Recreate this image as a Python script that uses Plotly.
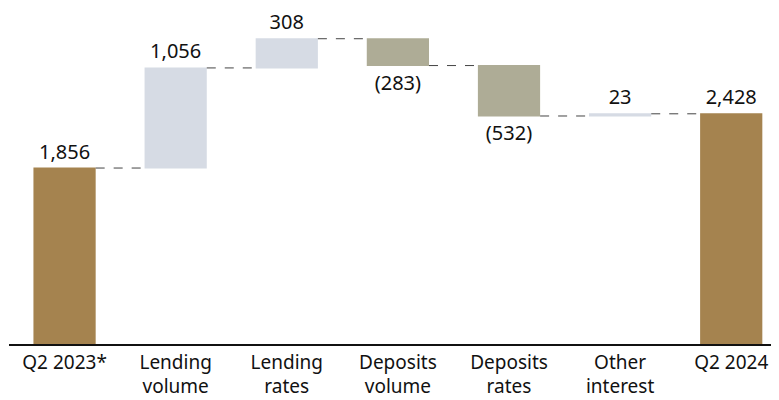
import plotly.graph_objects as go

categories = ['Q2 2023*', 'Lending<br>volume', 'Lending<br>rates', 'Deposits<br>volume',
              'Deposits<br>rates', 'Other<br>interest', 'Q2 2024']
values = [1856, 1056, 308, -283, -532, 23, 2428]
measures = ['absolute', 'relative', 'relative', 'relative', 'relative', 'relative', 'total']


def fmt(v):
    return f'({abs(v):,})' if v < 0 else f'{v:,}'


labels = [fmt(v) for v in values]

fig = go.Figure(go.Waterfall(
    x=categories, y=values, measure=measures,
    text=labels, textposition='outside', constraintext='none',
    textfont={'size': 20, 'color': '#111111'},
    increasing={'marker': {'color': '#d6dbe4'}},
    decreasing={'marker': {'color': '#aeac96'}},
    totals={'marker': {'color': '#a5834f'}},
    connector={'mode': 'between', 'line': {'color': '#444444', 'width': 1, 'dash': 'dash'}},
    width=0.56, cliponaxis=False, hoverinfo='skip',
))

# page has an 8px body margin, so the figure is a bit smaller than the window
fig.update_layout(
    width=771, height=392,
    margin={'l': 1, 'r': 0, 't': 2, 'b': 56},
    paper_bgcolor='white', plot_bgcolor='white',
    font={'family': 'Noto Sans, Open Sans, sans-serif', 'size': 20, 'color': '#111111'},
    showlegend=False,
)
fig.update_xaxes(showline=True, linecolor='#111111', linewidth=1.5, ticks='', showgrid=False,
                 range=[-0.5, 6.43], tickfont={'size': 19}, ticklabelstandoff=0,
                 automargin=False)
fig.update_yaxes(visible=False, range=[0, 3523], showgrid=False, zeroline=False)

fig.write_html('out.html')
